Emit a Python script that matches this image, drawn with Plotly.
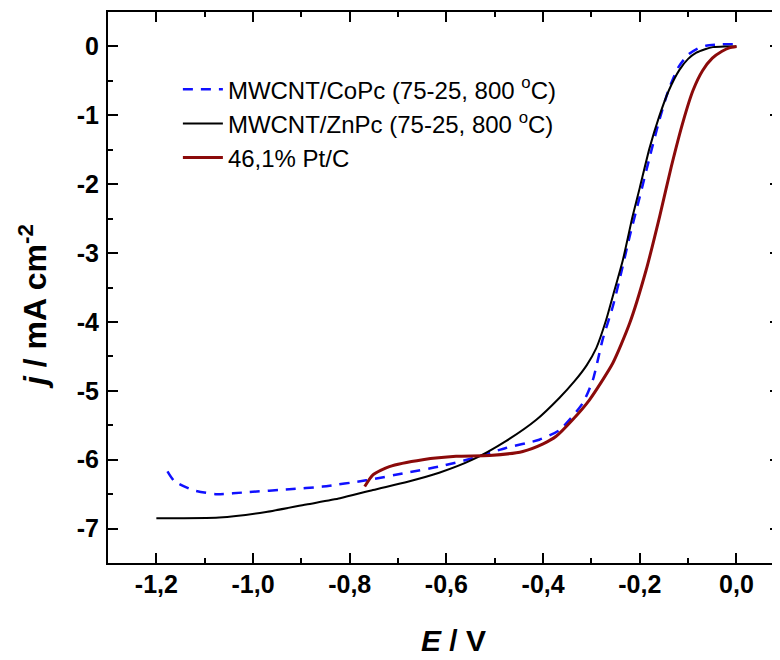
import plotly.graph_objects as go

# --- data ---
co_E = [-1.177, -1.163, -1.125, -1.077, -1.008, -0.925, -0.856, -0.766, -0.683, -0.615,
        -0.546, -0.477, -0.408, -0.366, -0.318, -0.297, -0.277, -0.256, -0.242, -0.221,
        -0.200, -0.180, -0.160, -0.140, -0.120, -0.100, -0.080, -0.063, -0.030, 0.0]
co_j = [-6.17, -6.31, -6.44, -6.50, -6.47, -6.43, -6.39, -6.30, -6.19, -6.10,
        -5.98, -5.83, -5.71, -5.57, -5.18, -4.84, -4.26, -3.78, -3.39, -2.76,
        -2.18, -1.62, -1.08, -0.62, -0.30, -0.12, -0.03, 0.01, 0.03, 0.03]

zn_E = [-1.200, -1.070, -0.973, -0.890, -0.820, -0.752, -0.680, -0.615, -0.546, -0.477,
        -0.414, -0.366, -0.335, -0.310, -0.290, -0.270, -0.256, -0.235, -0.215, -0.200,
        -0.180, -0.160, -0.140, -0.118, -0.100, -0.083, -0.065, -0.049, -0.025, 0.0]
zn_j = [-6.85, -6.84, -6.76, -6.65, -6.56, -6.44, -6.32, -6.19, -6.00, -5.73,
        -5.42, -5.10, -4.86, -4.63, -4.38, -3.98, -3.63, -3.10, -2.47, -2.05,
        -1.48, -1.02, -0.64, -0.34, -0.18, -0.09, -0.04, -0.01, 0.0, 0.0]

pt_E = [-0.769, -0.752, -0.718, -0.649, -0.580, -0.511, -0.442, -0.400, -0.373, -0.339,
        -0.304, -0.256, -0.221, -0.187, -0.159, -0.135, -0.110, -0.090, -0.070, -0.050,
        -0.030, -0.015, 0.0]
pt_j = [-6.39, -6.22, -6.10, -6.00, -5.95, -5.94, -5.88, -5.77, -5.66, -5.42,
        -5.13, -4.60, -4.02, -3.25, -2.47, -1.75, -1.08, -0.64, -0.35, -0.17,
        -0.07, -0.02, 0.0]

names = ["MWCNT/CoPc (75-25, 800 <sup>o</sup>C)",
         "MWCNT/ZnPc (75-25, 800 <sup>o</sup>C)",
         "46,1% Pt/C"]

x_tickvals = [-1.2, -1.0, -0.8, -0.6, -0.4, -0.2, 0.0]
x_ticktext = ["-1,2", "-1,0", "-0,8", "-0,6", "-0,4", "-0,2", "0,0"]
y_tickvals = [0, -1, -2, -3, -4, -5, -6, -7]
y_ticktext = ["0", "-1", "-2", "-3", "-4", "-5", "-6", "-7"]

x_title = "<b><i>E</i> / V</b>"
y_title = "<b><i>j</i> / mA cm<sup>-2</sup></b>"

font_family = "Liberation Sans, Arial, sans-serif"

fig = go.Figure()
fig.add_trace(go.Scatter(x=co_E, y=co_j, mode="lines", name=names[0], legendgroup="a",
                         line=dict(color="#1010ff", width=2.5, dash="10px,8px", shape="spline", smoothing=0.6)))
fig.add_trace(go.Scatter(x=zn_E, y=zn_j, mode="lines", name=names[1], legendgroup="b",
                         line=dict(color="#000000", width=2, shape="spline", smoothing=0.6)))
fig.add_trace(go.Scatter(x=pt_E, y=pt_j, mode="lines", name=names[2], legendgroup="c",
                         line=dict(color="#8b0a0a", width=3, shape="spline", smoothing=0.6)))

axis_common = dict(showline=True, linecolor="black", linewidth=2, mirror="ticks",
                   ticks="inside", ticklen=10, tickwidth=2, tickcolor="black",
                   showgrid=False, zeroline=False, automargin=False,
                   tickfont=dict(family=font_family, size=25, color="black", weight="bold"))

fig.update_xaxes(range=[-1.3, 0.09], tickmode="array", tickvals=x_tickvals, ticktext=x_ticktext,
                 ticklabelstandoff=-2,
                 minor=dict(tickmode="linear", tick0=0, dtick=0.1, ticks="inside", ticklen=5,
                            tickwidth=2, tickcolor="black"),
                 **axis_common)
fig.update_yaxes(range=[-7.5, 0.5], tickmode="array", tickvals=y_tickvals, ticktext=y_ticktext,
                 ticklabelstandoff=2,
                 minor=dict(tickmode="linear", tick0=0, dtick=0.5, ticks="inside", ticklen=5,
                            tickwidth=2, tickcolor="black"),
                 **axis_common)

fig.add_annotation(text=x_title, xref="paper", yref="paper", x=0.5134, y=-0.14,
                   xanchor="center", yanchor="middle", showarrow=False,
                   font=dict(family=font_family, size=30, color="black"))
fig.add_annotation(text=y_title, xref="paper", yref="paper", x=-0.1116, y=0.4646,
                   xanchor="center", yanchor="middle", showarrow=False, textangle=-90,
                   font=dict(family=font_family, size=32, color="black"))

fig.update_layout(
    width=772, height=652,
    margin=dict(l=100, r=0, t=4, b=97),
    paper_bgcolor="white", plot_bgcolor="white",
    font=dict(family=font_family, color="black"),
    legend=dict(x=0.104, y=0.9, xanchor="left", yanchor="top",
                bgcolor="rgba(0,0,0,0)", font=dict(family=font_family, size=24, color="black"),
                tracegroupgap=0, itemwidth=40),
    showlegend=True,
)

fig.write_html("out.html")
